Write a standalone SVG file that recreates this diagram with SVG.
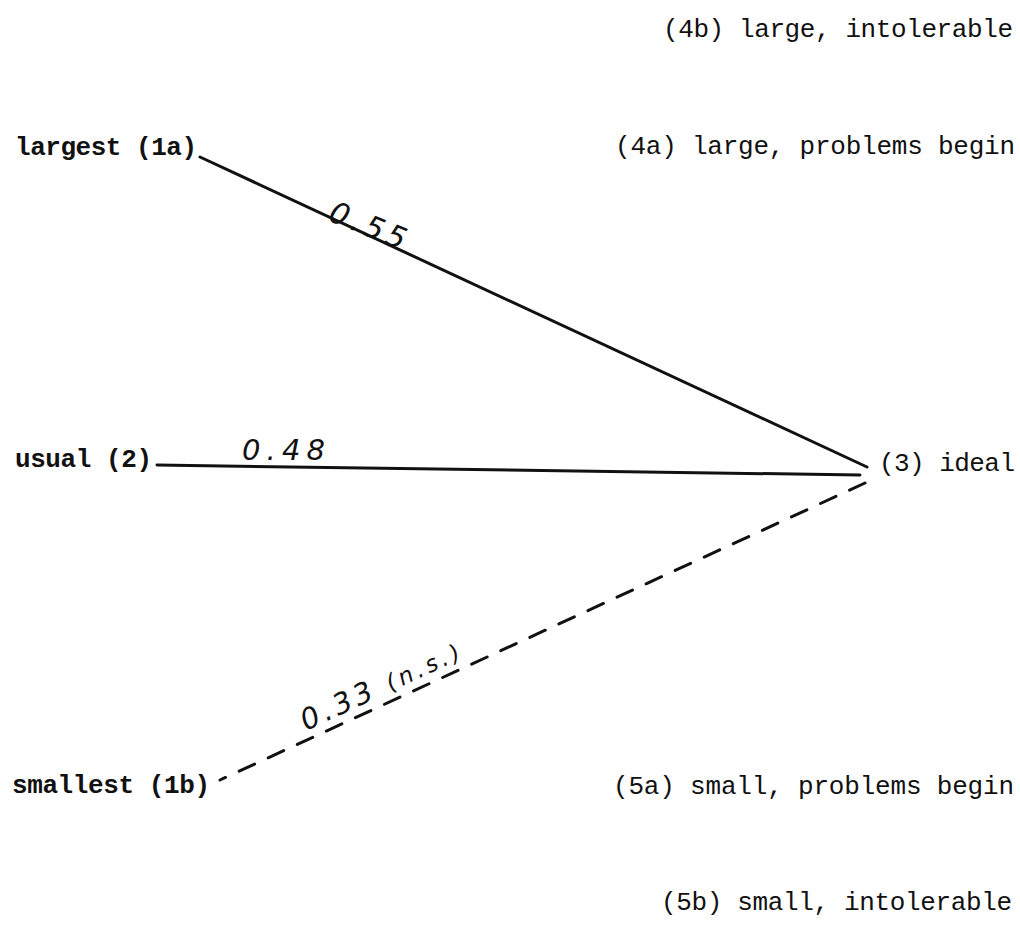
<svg xmlns="http://www.w3.org/2000/svg" width="1020" height="929" viewBox="0 0 1020 929">
  <style>
    .lbl { font-family: "Liberation Mono", "Courier New", monospace; font-size: 26px; fill: #111; }
    .lft { font-weight: bold; }
    .hand { font-family: "DejaVu Sans", "Liberation Sans", sans-serif; font-style: italic; fill: #111; }
    .ln { stroke: #111; stroke-width: 3; fill: none; stroke-linecap: round; }
    .dash { stroke-dasharray: 17 15; }
  </style>
  <rect width="1020" height="929" fill="#ffffff"/>

  <g id="connectors">
    <line class="ln" x1="200" y1="157" x2="867" y2="467"/>
    <line class="ln" x1="157" y1="465" x2="860" y2="475"/>
    <line class="ln dash" x1="865" y1="483" x2="220" y2="780"/>
    <text class="hand" font-size="30" transform="translate(327,220) rotate(22)" textLength="80" lengthAdjust="spacing">0.55</text>
    <text class="hand" font-size="29" x="242" y="460" textLength="83" lengthAdjust="spacing">0.48</text>
    <text class="hand" transform="translate(306,731) rotate(-25)" textLength="172" lengthAdjust="spacing"><tspan font-size="29">0.33 </tspan><tspan font-size="23">(n.s.)</tspan></text>
  </g>

  <g id="node-1a"><text class="lbl lft" x="15" y="155" textLength="182" lengthAdjust="spacing">largest (1a)</text></g>
  <g id="node-2"><text class="lbl lft" x="15" y="467" textLength="137" lengthAdjust="spacing">usual (2)</text></g>
  <g id="node-1b"><text class="lbl lft" x="12" y="793" textLength="198" lengthAdjust="spacing">smallest (1b)</text></g>
  <g id="node-4b"><text class="lbl" x="663" y="37" textLength="350" lengthAdjust="spacing">(4b) large, intolerable</text></g>
  <g id="node-4a"><text class="lbl" x="615" y="154" textLength="400" lengthAdjust="spacing">(4a) large, problems begin</text></g>
  <g id="node-3"><text class="lbl" x="879" y="471" textLength="136" lengthAdjust="spacing">(3) ideal</text></g>
  <g id="node-5a"><text class="lbl" x="613" y="794" textLength="401" lengthAdjust="spacing">(5a) small, problems begin</text></g>
  <g id="node-5b"><text class="lbl" x="661" y="910" textLength="351" lengthAdjust="spacing">(5b) small, intolerable</text></g>
</svg>
